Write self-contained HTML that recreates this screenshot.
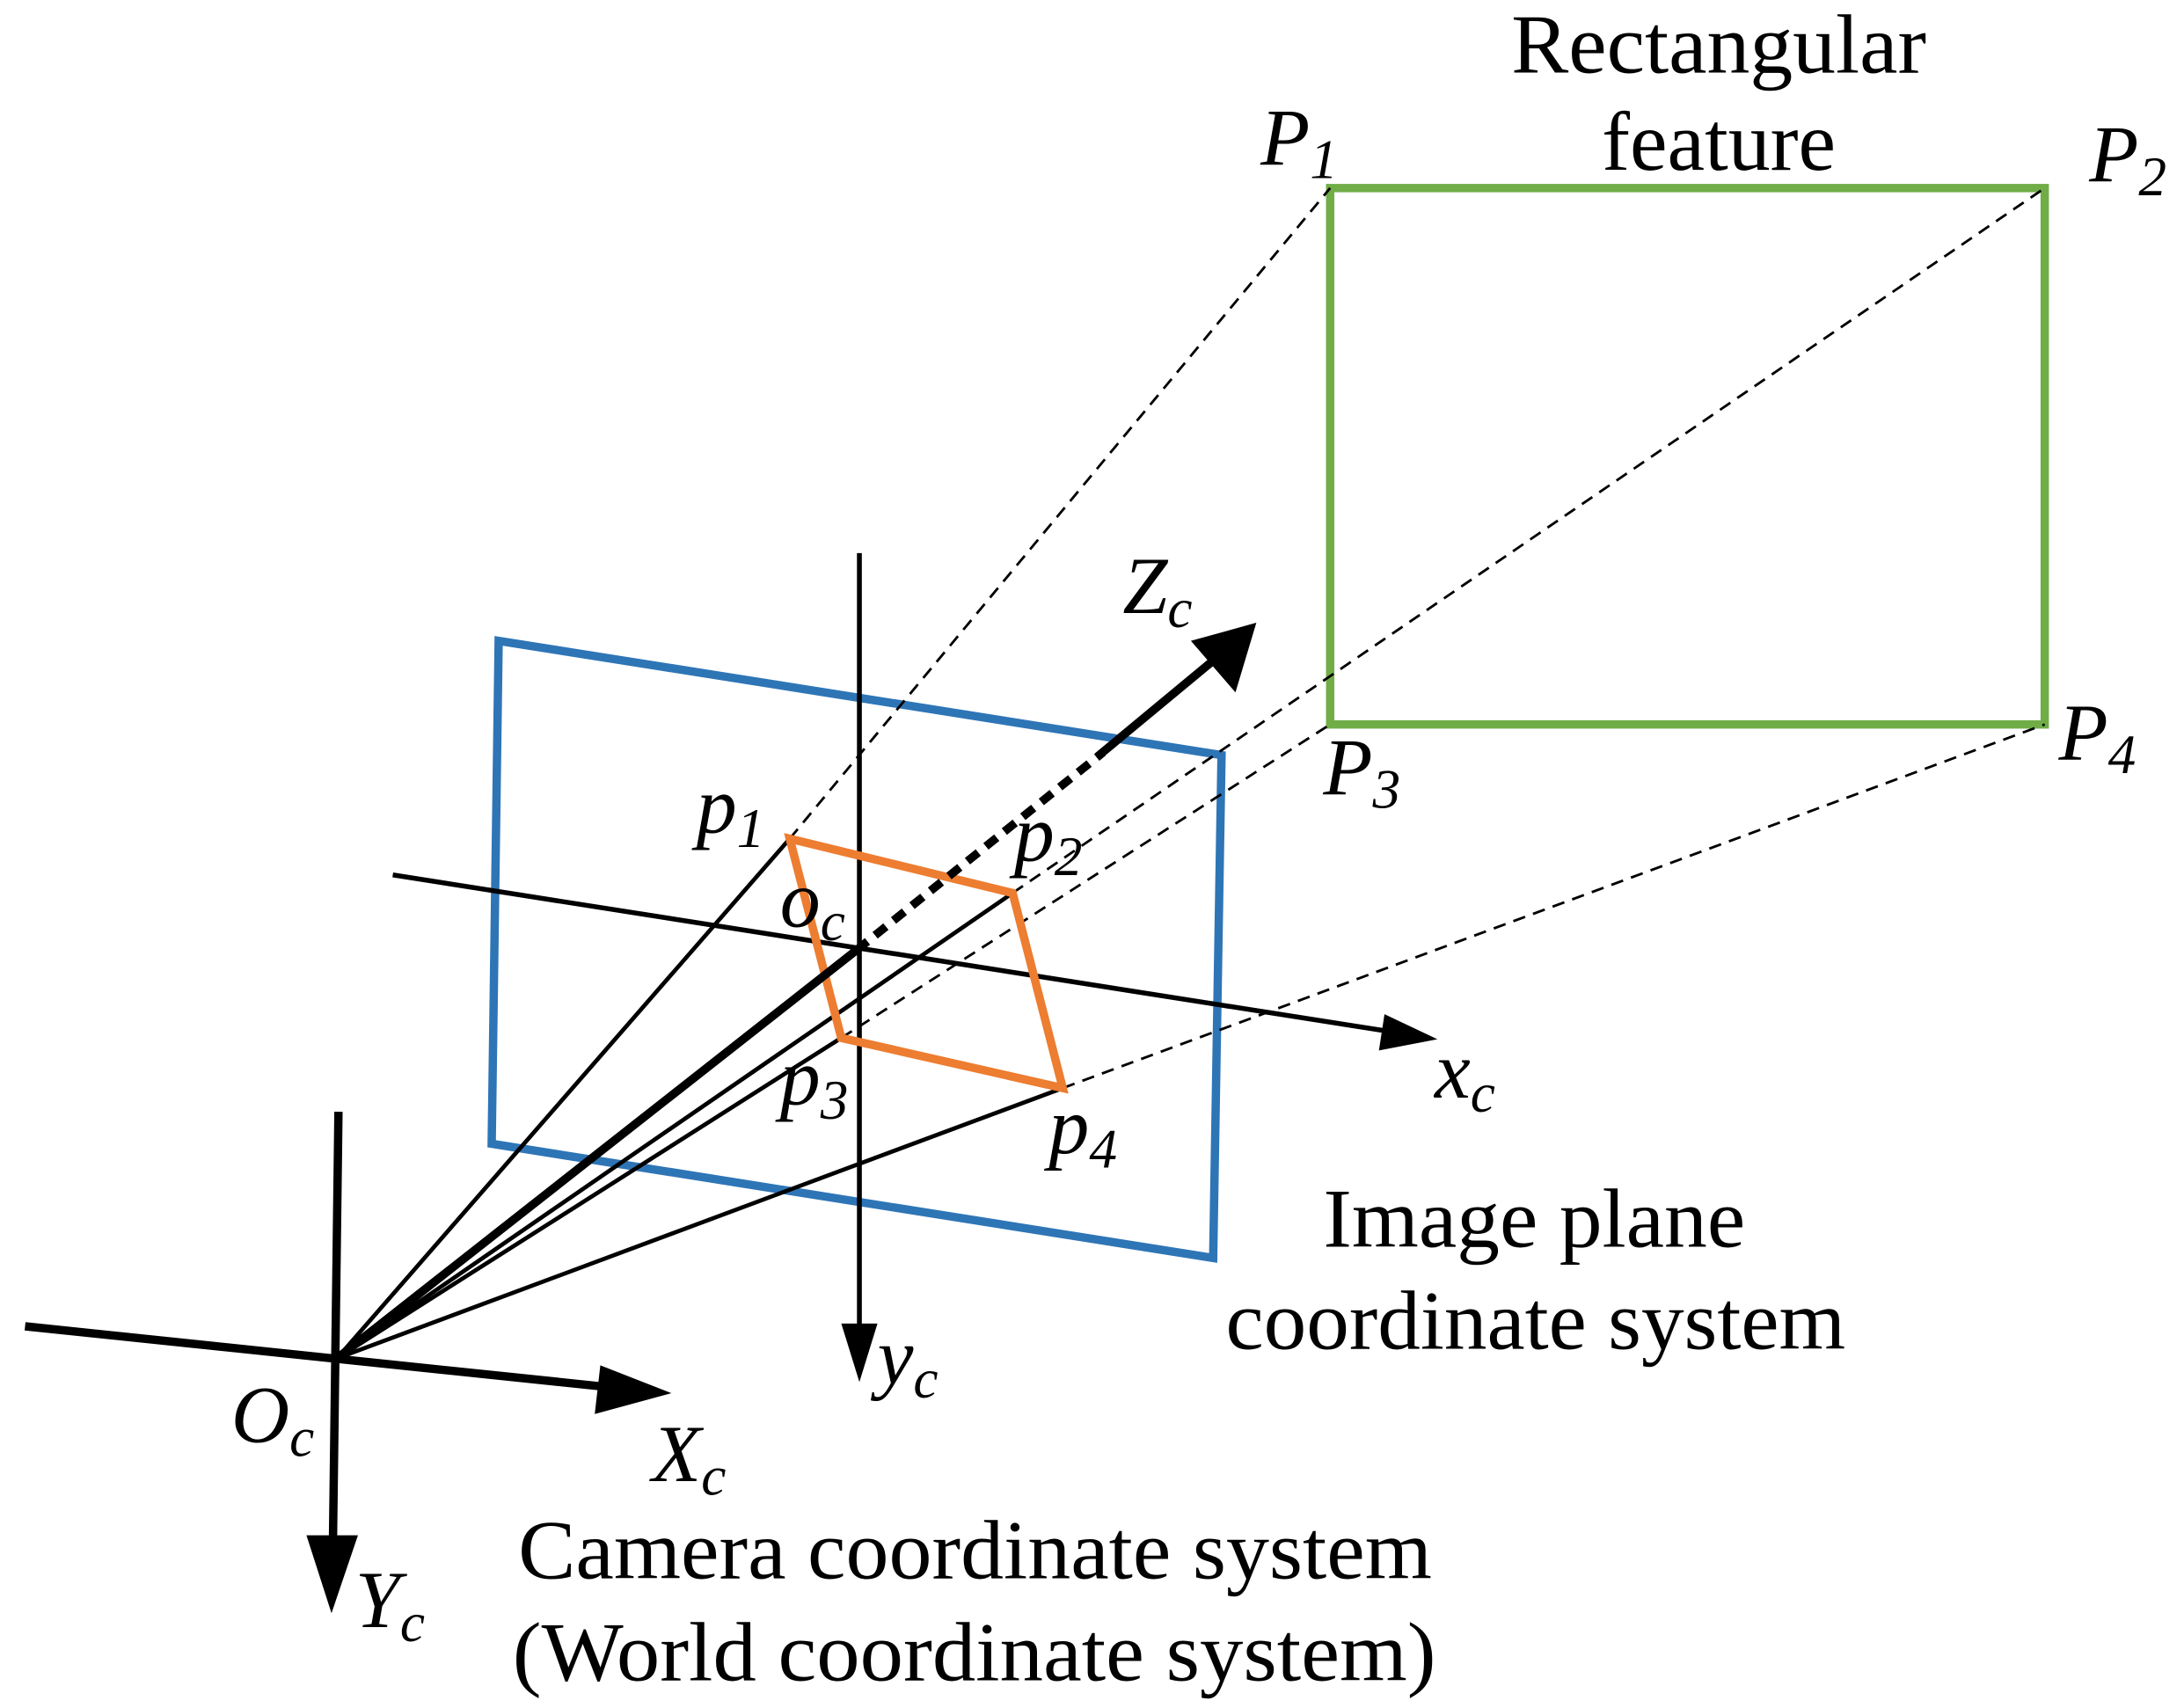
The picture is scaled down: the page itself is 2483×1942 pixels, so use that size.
<!DOCTYPE html>
<html><head><meta charset="utf-8"><style>
html,body{margin:0;padding:0;background:#fff;}
svg{display:block;}
text{font-family:"Liberation Serif",serif;fill:#000;}
.v{font-style:italic;font-size:58px;}
.s{font-size:40px;font-style:italic;}
.t{font-size:60px;}
</style></head><body>
<svg width="2483" height="1942" viewBox="0 0 1568 1226" preserveAspectRatio="none" xmlns="http://www.w3.org/2000/svg">
<rect x="955" y="135" width="513" height="385" fill="none" stroke="#70ad47" stroke-width="6"/>
<polygon points="358,460 877,542 871,903 353,821" fill="none" stroke="#2e75b6" stroke-width="6"/>
<g stroke="#000" stroke-width="1.8" stroke-dasharray="9,6" fill="none">
<line x1="567" y1="602" x2="955" y2="135"/>
<line x1="727" y1="641" x2="1468" y2="135"/>
<line x1="604" y1="745" x2="955" y2="520"/>
<line x1="763" y1="781" x2="1468" y2="520"/>
</g>
<g stroke="#000" stroke-width="3" fill="none">
<line x1="242" y1="975" x2="567" y2="602"/>
<line x1="242" y1="975" x2="727" y2="641"/>
<line x1="242" y1="975" x2="604" y2="745"/>
<line x1="242" y1="975" x2="763" y2="781"/>
</g>
<g stroke="#000" stroke-width="3.5" fill="none">
<line x1="617" y1="397" x2="617" y2="955"/>
<line x1="282" y1="628" x2="995" y2="740"/>
</g>
<polygon points="617,992 604,950 630,950" fill="#000"/>
<polygon points="1032,746 990,754 994,728" fill="#000"/>
<polygon points="567,602 727,641 763,781 604,745" fill="none" stroke="#ed7d31" stroke-width="6"/>
<line x1="242" y1="975" x2="615" y2="682" stroke="#000" stroke-width="6"/>
<line x1="615" y1="682" x2="792" y2="540" stroke="#000" stroke-width="6" stroke-dasharray="10,7"/>
<line x1="788" y1="543" x2="870" y2="475" stroke="#000" stroke-width="6"/>
<polygon points="902,447 887,497 855,460" fill="#000"/>
<line x1="18" y1="952" x2="440" y2="996" stroke="#000" stroke-width="6"/>
<polygon points="482,1000 427,1015 431,980" fill="#000"/>
<line x1="243" y1="798" x2="239" y2="1110" stroke="#000" stroke-width="6"/>
<polygon points="238,1158 220,1102 257,1102" fill="#000"/>
<text class="t" x="1085" y="52" textLength="298" lengthAdjust="spacingAndGlyphs">Rectangular</text>
<text class="t" x="1150" y="122" textLength="168" lengthAdjust="spacingAndGlyphs">feature</text>
<text class="v" x="905" y="118">P<tspan class="s" dy="10">1</tspan></text>
<text class="v" x="1500" y="130">P<tspan class="s" dy="10">2</tspan></text>
<text class="v" x="950" y="570">P<tspan class="s" dy="10">3</tspan></text>
<text class="v" x="1478" y="545">P<tspan class="s" dy="10">4</tspan></text>
<text class="v" x="500" y="598">p<tspan class="s" dy="10">1</tspan></text>
<text class="v" x="728" y="618">p<tspan class="s" dy="10">2</tspan></text>
<text class="v" x="560" y="665">o<tspan class="s" dy="10">c</tspan></text>
<text class="v" x="560" y="793">p<tspan class="s" dy="10">3</tspan></text>
<text class="v" x="753" y="828">p<tspan class="s" dy="10">4</tspan></text>
<text class="v" x="806" y="440">Z<tspan class="s" dy="10">c</tspan></text>
<text class="v" x="1030" y="788">x<tspan class="s" dy="10">c</tspan></text>
<text class="v" x="630" y="993">y<tspan class="s" dy="10">c</tspan></text>
<text class="v" x="166" y="1035">O<tspan class="s" dy="10">c</tspan></text>
<text class="v" x="468" y="1063">X<tspan class="s" dy="10">c</tspan></text>
<text class="v" x="255" y="1168">Y<tspan class="s" dy="10">c</tspan></text>
<text class="t" x="950" y="895" textLength="303" lengthAdjust="spacingAndGlyphs">Image plane</text>
<text class="t" x="880" y="968" textLength="445" lengthAdjust="spacingAndGlyphs">coordinate system</text>
<text class="t" x="372" y="1133" textLength="656" lengthAdjust="spacingAndGlyphs">Camera coordinate system</text>
<text class="t" x="368" y="1206" textLength="663" lengthAdjust="spacingAndGlyphs">(World coordinate system)</text>
</svg>
</body></html>
